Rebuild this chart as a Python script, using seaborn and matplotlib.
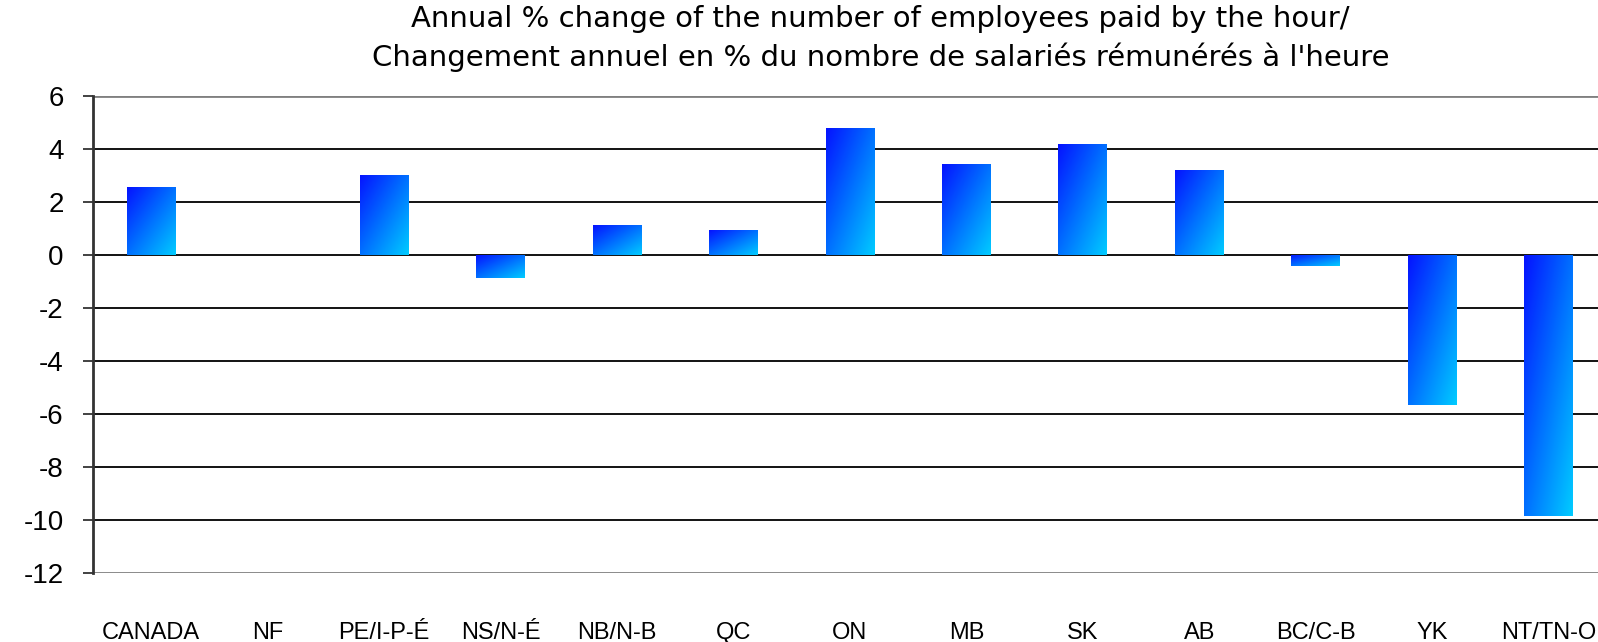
import numpy as np
import matplotlib
matplotlib.use("Agg")
import matplotlib.pyplot as plt
from matplotlib.colors import LinearSegmentedColormap
import seaborn as sns

regions = ["CANADA", "NF", "PE/I-P-É", "NS/N-É", "NB/N-B", "QC", "ON",
           "MB", "SK", "AB", "BC/C-B", "YK", "NT/TN-O"]
pct_change = [2.55, 0.0, 3.03, -0.85, 1.13, 0.93, 4.78,
              3.43, 4.17, 3.22, -0.42, -5.65, -9.84]
y_ticks = [6, 4, 2, 0, -2, -4, -6, -8, -10, -12]

sns.set_style("white")
plt.rcParams["font.family"] = ["Liberation Sans", "DejaVu Sans"]
plt.rcParams["text.color"] = "black"
plt.rcParams["xtick.color"] = "black"
plt.rcParams["ytick.color"] = "black"

fig = plt.figure(figsize=(15.98, 6.42), dpi=100)
ax = fig.add_axes([0.0582, 0.1075, 0.9474, 0.743])

# grid lines first so bars sit on top
for t in y_ticks:
    edge = t in (6, -12)
    ax.axhline(t, color="#808080" if edge else "black",
               lw=2.0 if edge else 1.3, zorder=0)

sns.barplot(x=regions, y=pct_change, width=0.42, color="#0060ff",
            ax=ax, zorder=2)

# diagonal blue -> cyan gradient inside each bar
grad_cmap = LinearSegmentedColormap.from_list(
    "bluecyan", ["#0512ff", "#0070ff", "#00ccff"])
u = np.linspace(0, 1, 120)
grad = (u[None, :] + u[:, None]) / 2
for patch in ax.patches:
    patch.set_alpha(0)
    x0, y0 = patch.get_x(), patch.get_y()
    w, h = patch.get_width(), patch.get_height()
    if h == 0:
        continue
    top, bot = max(y0, y0 + h), min(y0, y0 + h)
    im = ax.imshow(grad, cmap=grad_cmap, aspect="auto", origin="upper",
                   extent=[x0, x0 + w, bot, top], zorder=2.5)
    im.set_clip_path(patch)

ax.set_xlim(-0.5, len(regions) - 0.5)
ax.set_ylim(-12, 6)
ax.set_yticks(y_ticks)
ax.set_yticklabels([str(t) for t in y_ticks])

for side in ["top", "right", "bottom"]:
    ax.spines[side].set_visible(False)
ax.spines["left"].set_color("#333333")
ax.spines["left"].set_linewidth(2)

ax.tick_params(axis="y", left=True, length=7, width=1.3, color="#333333",
               pad=14, labelsize=20)
ax.tick_params(axis="x", bottom=False, length=0, pad=35, labelsize=17)
ax.set_xlabel("")
ax.set_ylabel("")

# the original title is widely letter-spaced; a wider face gets closer
fig.text(0.551, 0.992,
         "Annual % change of the number of employees paid by the hour/\n"
         "Changement annuel en % du nombre de salariés rémunérés à l'heure",
         ha="center", va="top", fontsize=21, linespacing=1.38,
         family="DejaVu Sans")

fig.savefig("out.png", dpi=100)
